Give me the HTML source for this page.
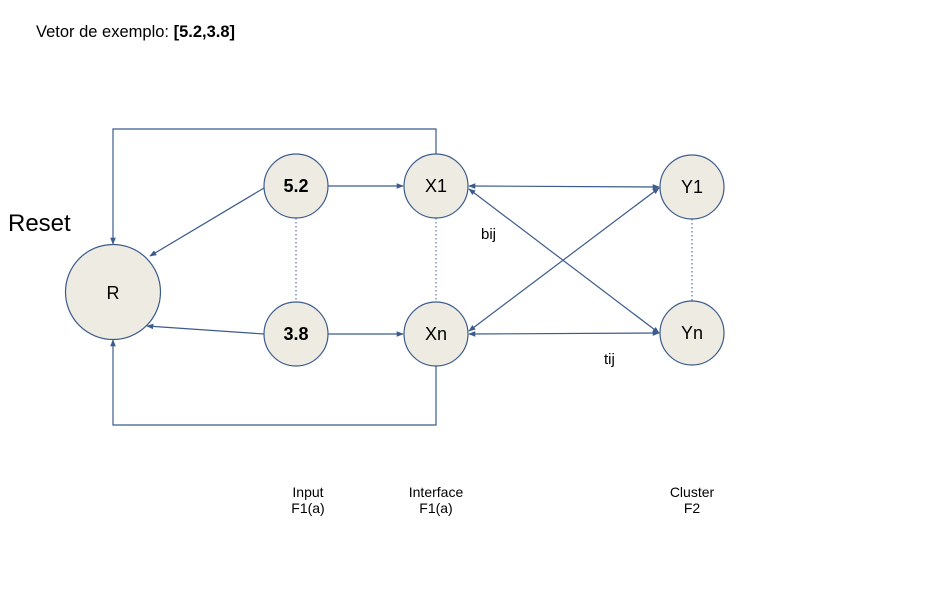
<!DOCTYPE html>
<html><head><meta charset="utf-8"><style>
body{margin:0;background:#fff;width:932px;height:614px;overflow:hidden}
svg{display:block;font-family:"Liberation Sans",sans-serif}
</style></head><body>
<svg width="932" height="614" viewBox="0 0 932 614">
<defs>
<marker id="a" viewBox="0 0 10 10" refX="9" refY="5" markerWidth="7" markerHeight="7" orient="auto-start-reverse" markerUnits="userSpaceOnUse">
<path d="M0,1 L10,5 L0,9 Z" fill="#3b5b8c"/></marker>
</defs>
<text x="36" y="37" font-size="16.5" fill="#000">Vetor de exemplo: <tspan font-weight="bold">[5.2,3.8]</tspan></text>
<text x="8" y="231" font-size="24" fill="#000">Reset</text>
<g stroke="#3b5b8c" stroke-width="1.2" fill="none">
<polyline points="436,154 436,129 113,129 113,244" marker-end="url(#a)"/>
<polyline points="436,366 436,425 113,425 113,340" marker-end="url(#a)"/>
<line x1="264" y1="188" x2="150" y2="256" marker-end="url(#a)"/>
<line x1="264" y1="334" x2="147" y2="326" marker-end="url(#a)"/>
<line x1="328" y1="186" x2="403" y2="186" marker-end="url(#a)"/>
<line x1="328" y1="334" x2="403" y2="334" marker-end="url(#a)"/>
<line x1="469" y1="186" x2="659" y2="187" marker-start="url(#a)" marker-end="url(#a)"/>
<line x1="469" y1="334" x2="659" y2="333" marker-start="url(#a)" marker-end="url(#a)"/>
<line x1="469" y1="189" x2="659" y2="333" marker-start="url(#a)" marker-end="url(#a)"/>
<line x1="469" y1="331" x2="659" y2="188" marker-start="url(#a)" marker-end="url(#a)"/>
</g>
<g stroke="#3b5b8c" stroke-width="1" stroke-dasharray="1.5,2.5">
<line x1="296" y1="218" x2="296" y2="302"/>
<line x1="436" y1="218" x2="436" y2="302"/>
<line x1="692" y1="219" x2="692" y2="301"/>
</g>
<g fill="#eeebe2" stroke="#3b5b8c" stroke-width="1.2">
<circle cx="113" cy="292" r="47.5"/>
<circle cx="296" cy="186" r="32"/>
<circle cx="296" cy="334" r="32"/>
<circle cx="436" cy="186" r="32"/>
<circle cx="436" cy="334" r="32"/>
<circle cx="692" cy="187" r="32"/>
<circle cx="692" cy="333" r="32"/>
</g>
<g font-size="18" text-anchor="middle" fill="#000">
<text x="113" y="299">R</text>
<text x="296" y="192" font-weight="bold">5.2</text>
<text x="296" y="340" font-weight="bold">3.8</text>
<text x="436" y="192">X1</text>
<text x="436" y="340">Xn</text>
<text x="692" y="193">Y1</text>
<text x="692" y="339">Yn</text>
</g>
<g font-size="15" fill="#000">
<text x="481" y="239">bij</text>
<text x="604" y="364">tij</text>
</g>
<g font-size="14" text-anchor="middle" fill="#000">
<text x="308" y="497">Input</text><text x="308" y="513">F1(a)</text>
<text x="436" y="497">Interface</text><text x="436" y="513">F1(a)</text>
<text x="692" y="497">Cluster</text><text x="692" y="513">F2</text>
</g>
</svg>
</body></html>
